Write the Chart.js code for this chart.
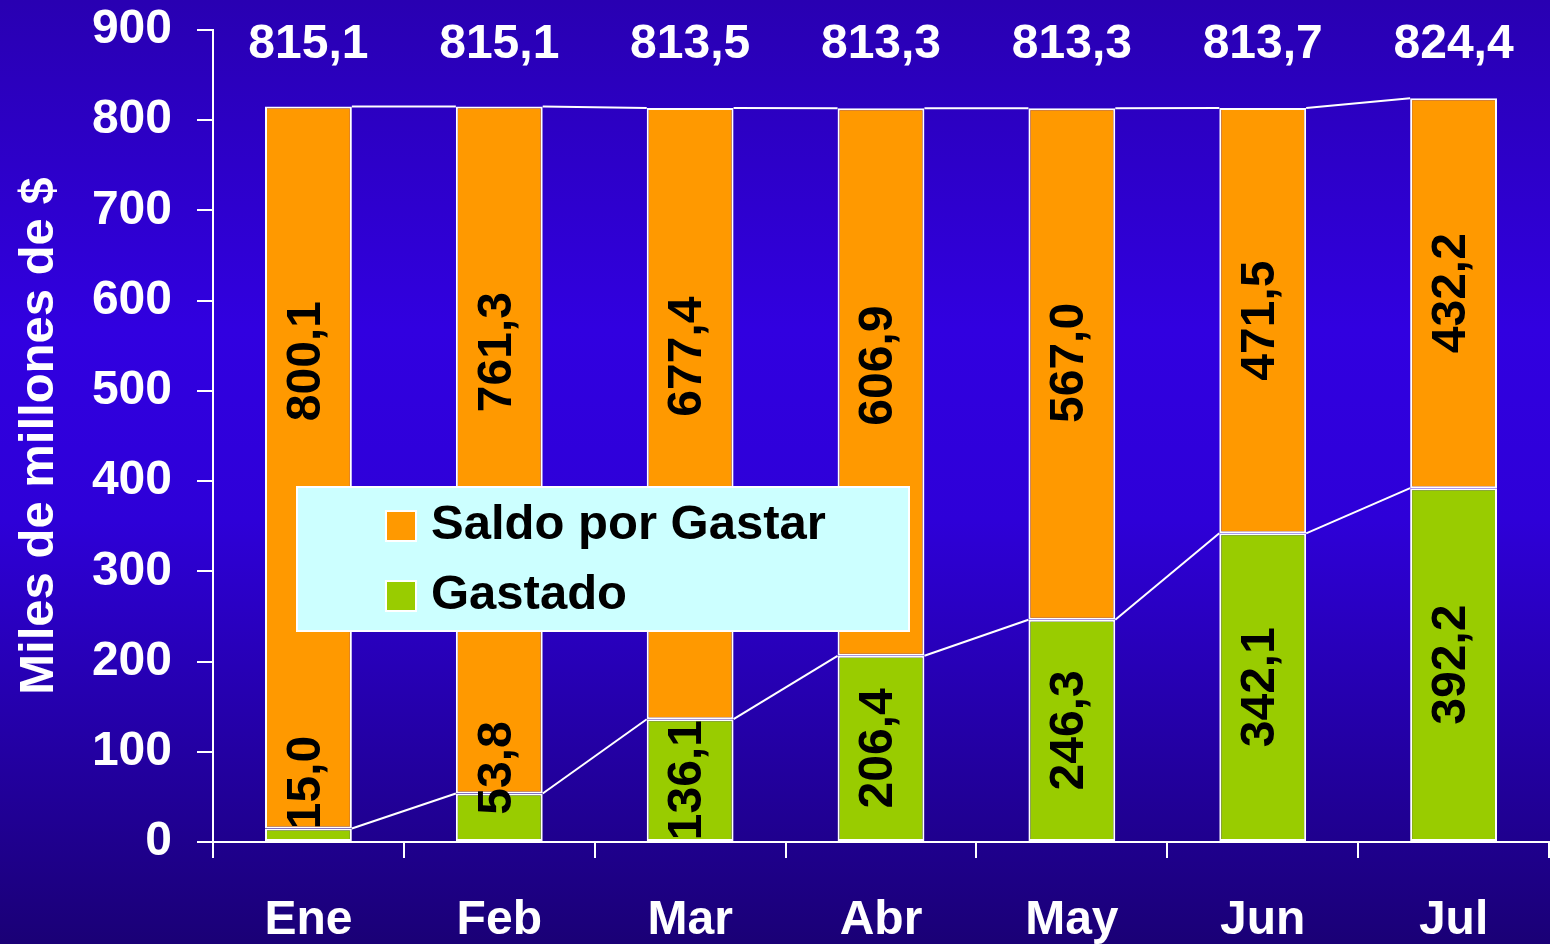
<!DOCTYPE html>
<html>
<head>
<meta charset="utf-8">
<script src="https://cdn.jsdelivr.net/npm/chart.js@4.4.1/dist/chart.umd.min.js"></script>
<style>
html,body{margin:0;padding:0;background:#1a0078;overflow:hidden}
#wrap{width:1550px;height:944px}
</style>
</head>
<body>
<div id="wrap"><canvas id="c" width="1550" height="944"></canvas></div>
<script>
// ---- data ----
const categories = ['Ene', 'Feb', 'Mar', 'Abr', 'May', 'Jun', 'Jul'];
const gastado = [15.0, 53.8, 136.1, 206.4, 246.3, 342.1, 392.2];
const saldoPorGastar = [800.1, 761.3, 677.4, 606.9, 567.0, 471.5, 432.2];
const totales = [815.1, 815.1, 813.5, 813.3, 813.3, 813.7, 824.4];
const yTicks = [0, 100, 200, 300, 400, 500, 600, 700, 800, 900];
const seriesNames = ['Gastado', 'Saldo por Gastar'];
const axisTitle = 'Miles de millones de $';
// axis value at which a bar label is centred (null = middle of its segment)
const gastadoLabelAt = [66, 82, null, null, null, null, null];
const saldoLabelAt = [533, 543, 538, 528, 531, null, null];

// ---- style ----
const FAMILY = '"Liberation Sans", Arial, Helvetica, sans-serif';
const FONT = 'bold 48px ' + FAMILY;
const LEGEND_FONT = 'bold 49px ' + FAMILY;
const GREEN = '#99cc00';
const ORANGE = '#ff9900';

const fmt = v => v.toFixed(1).replace('.', ',');

const bgPlugin = {
  id: 'bg',
  beforeDraw(chart) {
    const {ctx, width, height} = chart;
    const g = ctx.createLinearGradient(0, 0, 0, height);
    g.addColorStop(0, '#2900b2');
    g.addColorStop(0.35, '#3100e0');
    g.addColorStop(0.55, '#2e00d8');
    g.addColorStop(1, '#1a0076');
    ctx.save();
    ctx.fillStyle = g;
    ctx.fillRect(0, 0, width, height);
    ctx.restore();
  }
};

const seriesLinePlugin = {
  id: 'seriesLines',
  afterDatasetsDraw(chart) {
    const ctx = chart.ctx;
    ctx.save();
    ctx.strokeStyle = '#ffffff';
    ctx.lineWidth = 2;
    chart.data.datasets.forEach((ds, d) => {
      const bars = chart.getDatasetMeta(d).data;
      for (let i = 0; i < bars.length - 1; i++) {
        const a = bars[i], b = bars[i + 1];
        ctx.beginPath();
        ctx.moveTo(a.x + a.width / 2, a.y);
        ctx.lineTo(b.x - b.width / 2, b.y);
        ctx.stroke();
      }
    });
    ctx.restore();
  }
};

const labelPlugin = {
  id: 'barLabels',
  afterDatasetsDraw(chart) {
    const ctx = chart.ctx;
    const yScale = chart.scales.y;
    const anchors = [gastadoLabelAt, saldoLabelAt];
    ctx.save();
    ctx.font = FONT;
    ctx.fillStyle = '#000000';
    ctx.textAlign = 'center';
    ctx.textBaseline = 'middle';
    chart.data.datasets.forEach((ds, d) => {
      const bars = chart.getDatasetMeta(d).data;
      bars.forEach((el, i) => {
        const at = anchors[d][i];
        const cy = at == null ? (el.y + el.base) / 2 : yScale.getPixelForValue(at);
        ctx.save();
        ctx.translate(el.x - 2, cy);
        ctx.rotate(-Math.PI / 2);
        ctx.fillText(fmt(ds.data[i]), 0, 0);
        ctx.restore();
      });
    });
    // totals above the bars
    ctx.fillStyle = '#ffffff';
    const top = chart.chartArea.top;
    chart.getDatasetMeta(1).data.forEach((el, i) => {
      ctx.fillText(fmt(totales[i]), el.x, top + 15);
    });
    ctx.restore();
  }
};

const legendPlugin = {
  id: 'boxLegend',
  afterDraw(chart) {
    const ctx = chart.ctx;
    const ca = chart.chartArea;
    const bx = ca.left + 84, by = ca.top + 457, bw = 612, bh = 144;
    ctx.save();
    ctx.fillStyle = '#ccffff';
    ctx.fillRect(bx, by, bw, bh);
    ctx.strokeStyle = '#ffffff';
    ctx.lineWidth = 2;
    ctx.strokeRect(bx, by, bw, bh);
    const order = [1, 0];
    order.forEach((d, k) => {
      const ds = chart.data.datasets[d];
      const sx = bx + 89, sy = by + 24 + k * 70;
      ctx.fillStyle = ds.backgroundColor;
      ctx.fillRect(sx, sy, 30, 30);
      ctx.strokeStyle = '#ffffff';
      ctx.lineWidth = 2;
      ctx.strokeRect(sx, sy, 30, 30);
      ctx.fillStyle = '#000000';
      ctx.font = LEGEND_FONT;
      ctx.textAlign = 'left';
      ctx.textBaseline = 'middle';
      ctx.fillText(ds.label, bx + 134, sy + 14);
    });
    ctx.restore();
  }
};

const tickFont = {family: FAMILY, size: 48, weight: 'bold'};
const yTickFont = {family: FAMILY, size: 48, weight: 'bold', lineHeight: 0.1};
const titleFont = {family: FAMILY, size: 49, weight: 'bold'};

new Chart(document.getElementById('c'), {
  type: 'bar',
  data: {
    labels: categories,
    datasets: [
      {label: seriesNames[0], data: gastado, backgroundColor: GREEN, borderColor: '#ffffff', borderWidth: 2, borderSkipped: false, barPercentage: 0.455, categoryPercentage: 1},
      {label: seriesNames[1], data: saldoPorGastar, backgroundColor: ORANGE, borderColor: '#ffffff', borderWidth: 2, borderSkipped: false, barPercentage: 0.455, categoryPercentage: 1}
    ]
  },
  options: {
    responsive: false,
    animation: false,
    devicePixelRatio: 1,
    layout: {padding: {top: 30, right: 1, left: 0, bottom: 0}},
    plugins: {legend: {display: false}, tooltip: {enabled: false}},
    scales: {
      x: {
        stacked: true,
        grid: {display: true, drawOnChartArea: false, drawTicks: true, tickLength: 16, color: '#ffffff', lineWidth: 2, offset: true},
        border: {display: true, color: '#ffffff', width: 2},
        ticks: {color: '#ffffff', font: tickFont, padding: 34, maxRotation: 0, autoSkip: false},
        afterFit(s) { s.height = 102; }
      },
      y: {
        stacked: true,
        min: 0,
        max: 900,
        afterBuildTicks(s) { s.ticks = yTicks.map(v => ({value: v})); },
        grid: {display: true, drawOnChartArea: false, drawTicks: true, tickLength: 16, color: '#ffffff', lineWidth: 2},
        border: {display: true, color: '#ffffff', width: 2},
        ticks: {color: '#ffffff', font: yTickFont, padding: 25, callback: v => String(v)},
        title: {display: true, text: axisTitle, color: '#ffffff', font: titleFont, padding: {top: 10, bottom: 0}},
        afterFit(s) { s.width = 213; }
      }
    }
  },
  plugins: [bgPlugin, seriesLinePlugin, labelPlugin, legendPlugin]
});
</script>
</body>
</html>
